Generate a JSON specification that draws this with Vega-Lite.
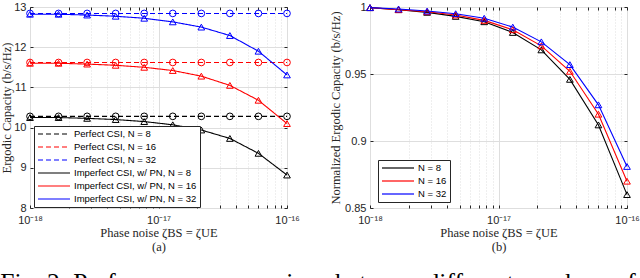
{
  "$schema": "https://vega.github.io/schema/vega-lite/v6.json",
  "padding": {"left": 0, "top": 0, "right": 0, "bottom": 0},
  "background": "white",
  "config": {
    "view": {"stroke": "#262626", "strokeWidth": 1},
    "axis": {
      "domain": false,
      "labelFont": "Liberation Sans",
      "labelFontSize": 11,
      "labelColor": "#262626",
      "titleFont": "Liberation Serif",
      "titleFontSize": 12.5,
      "titleFontWeight": "normal",
      "titleColor": "#262626",
      "tickColor": "#262626",
      "gridColor": "#dedede",
      "labelFlush": false,
      "labelOverlap": false
    },
    "legend": {
      "labelFont": "Liberation Sans",
      "labelFontSize": 9.5,
      "labelColor": "#000000",
      "strokeColor": "#262626",
      "fillColor": "white",
      "padding": 3,
      "rowPadding": 3,
      "symbolType": "M-1,0H7",
      "symbolSize": 64,
      "symbolStrokeWidth": 1.2,
      "labelOffset": 27,
      "title": null
    }
  },
  "title": {
    "text": "Fig. 2: Performance comparison between different numbers of",
    "orient": "bottom",
    "anchor": "start",
    "frame": "bounds",
    "font": "Liberation Serif",
    "fontSize": 25.5,
    "fontWeight": "normal",
    "color": "#000000",
    "offset": 18
  },
  "datasets": {
    "a": [
      {"x": 1e-18, "series": "Perfect CSI, N = 8", "n": "8", "csi": "Perfect", "y": 10.28},
      {"x": 1.6681e-18, "series": "Perfect CSI, N = 8", "n": "8", "csi": "Perfect", "y": 10.28},
      {"x": 2.7826e-18, "series": "Perfect CSI, N = 8", "n": "8", "csi": "Perfect", "y": 10.28},
      {"x": 4.6416e-18, "series": "Perfect CSI, N = 8", "n": "8", "csi": "Perfect", "y": 10.28},
      {"x": 7.7426e-18, "series": "Perfect CSI, N = 8", "n": "8", "csi": "Perfect", "y": 10.28},
      {"x": 1.2915e-17, "series": "Perfect CSI, N = 8", "n": "8", "csi": "Perfect", "y": 10.28},
      {"x": 2.1544e-17, "series": "Perfect CSI, N = 8", "n": "8", "csi": "Perfect", "y": 10.28},
      {"x": 3.5938e-17, "series": "Perfect CSI, N = 8", "n": "8", "csi": "Perfect", "y": 10.28},
      {"x": 5.9948e-17, "series": "Perfect CSI, N = 8", "n": "8", "csi": "Perfect", "y": 10.28},
      {"x": 1e-16, "series": "Perfect CSI, N = 8", "n": "8", "csi": "Perfect", "y": 10.28},
      {"x": 1e-18, "series": "Perfect CSI, N = 16", "n": "16", "csi": "Perfect", "y": 11.62},
      {"x": 1.6681e-18, "series": "Perfect CSI, N = 16", "n": "16", "csi": "Perfect", "y": 11.62},
      {"x": 2.7826e-18, "series": "Perfect CSI, N = 16", "n": "16", "csi": "Perfect", "y": 11.62},
      {"x": 4.6416e-18, "series": "Perfect CSI, N = 16", "n": "16", "csi": "Perfect", "y": 11.62},
      {"x": 7.7426e-18, "series": "Perfect CSI, N = 16", "n": "16", "csi": "Perfect", "y": 11.62},
      {"x": 1.2915e-17, "series": "Perfect CSI, N = 16", "n": "16", "csi": "Perfect", "y": 11.62},
      {"x": 2.1544e-17, "series": "Perfect CSI, N = 16", "n": "16", "csi": "Perfect", "y": 11.62},
      {"x": 3.5938e-17, "series": "Perfect CSI, N = 16", "n": "16", "csi": "Perfect", "y": 11.62},
      {"x": 5.9948e-17, "series": "Perfect CSI, N = 16", "n": "16", "csi": "Perfect", "y": 11.62},
      {"x": 1e-16, "series": "Perfect CSI, N = 16", "n": "16", "csi": "Perfect", "y": 11.62},
      {"x": 1e-18, "series": "Perfect CSI, N = 32", "n": "32", "csi": "Perfect", "y": 12.84},
      {"x": 1.6681e-18, "series": "Perfect CSI, N = 32", "n": "32", "csi": "Perfect", "y": 12.84},
      {"x": 2.7826e-18, "series": "Perfect CSI, N = 32", "n": "32", "csi": "Perfect", "y": 12.84},
      {"x": 4.6416e-18, "series": "Perfect CSI, N = 32", "n": "32", "csi": "Perfect", "y": 12.84},
      {"x": 7.7426e-18, "series": "Perfect CSI, N = 32", "n": "32", "csi": "Perfect", "y": 12.84},
      {"x": 1.2915e-17, "series": "Perfect CSI, N = 32", "n": "32", "csi": "Perfect", "y": 12.84},
      {"x": 2.1544e-17, "series": "Perfect CSI, N = 32", "n": "32", "csi": "Perfect", "y": 12.84},
      {"x": 3.5938e-17, "series": "Perfect CSI, N = 32", "n": "32", "csi": "Perfect", "y": 12.84},
      {"x": 5.9948e-17, "series": "Perfect CSI, N = 32", "n": "32", "csi": "Perfect", "y": 12.84},
      {"x": 1e-16, "series": "Perfect CSI, N = 32", "n": "32", "csi": "Perfect", "y": 12.84},
      {"x": 1e-18, "series": "Imperfect CSI, w/ PN, N = 8", "n": "8", "csi": "Imperfect", "y": 10.25},
      {"x": 1.6681e-18, "series": "Imperfect CSI, w/ PN, N = 8", "n": "8", "csi": "Imperfect", "y": 10.25},
      {"x": 2.7826e-18, "series": "Imperfect CSI, w/ PN, N = 8", "n": "8", "csi": "Imperfect", "y": 10.23},
      {"x": 4.6416e-18, "series": "Imperfect CSI, w/ PN, N = 8", "n": "8", "csi": "Imperfect", "y": 10.2},
      {"x": 7.7426e-18, "series": "Imperfect CSI, w/ PN, N = 8", "n": "8", "csi": "Imperfect", "y": 10.15},
      {"x": 1.2915e-17, "series": "Imperfect CSI, w/ PN, N = 8", "n": "8", "csi": "Imperfect", "y": 10.07},
      {"x": 2.1544e-17, "series": "Imperfect CSI, w/ PN, N = 8", "n": "8", "csi": "Imperfect", "y": 9.94},
      {"x": 3.5938e-17, "series": "Imperfect CSI, w/ PN, N = 8", "n": "8", "csi": "Imperfect", "y": 9.73},
      {"x": 5.9948e-17, "series": "Imperfect CSI, w/ PN, N = 8", "n": "8", "csi": "Imperfect", "y": 9.36},
      {"x": 1e-16, "series": "Imperfect CSI, w/ PN, N = 8", "n": "8", "csi": "Imperfect", "y": 8.82},
      {"x": 1e-18, "series": "Imperfect CSI, w/ PN, N = 16", "n": "16", "csi": "Imperfect", "y": 11.6},
      {"x": 1.6681e-18, "series": "Imperfect CSI, w/ PN, N = 16", "n": "16", "csi": "Imperfect", "y": 11.6},
      {"x": 2.7826e-18, "series": "Imperfect CSI, w/ PN, N = 16", "n": "16", "csi": "Imperfect", "y": 11.58},
      {"x": 4.6416e-18, "series": "Imperfect CSI, w/ PN, N = 16", "n": "16", "csi": "Imperfect", "y": 11.55},
      {"x": 7.7426e-18, "series": "Imperfect CSI, w/ PN, N = 16", "n": "16", "csi": "Imperfect", "y": 11.5},
      {"x": 1.2915e-17, "series": "Imperfect CSI, w/ PN, N = 16", "n": "16", "csi": "Imperfect", "y": 11.42},
      {"x": 2.1544e-17, "series": "Imperfect CSI, w/ PN, N = 16", "n": "16", "csi": "Imperfect", "y": 11.28},
      {"x": 3.5938e-17, "series": "Imperfect CSI, w/ PN, N = 16", "n": "16", "csi": "Imperfect", "y": 11.05},
      {"x": 5.9948e-17, "series": "Imperfect CSI, w/ PN, N = 16", "n": "16", "csi": "Imperfect", "y": 10.68},
      {"x": 1e-16, "series": "Imperfect CSI, w/ PN, N = 16", "n": "16", "csi": "Imperfect", "y": 10.1},
      {"x": 1e-18, "series": "Imperfect CSI, w/ PN, N = 32", "n": "32", "csi": "Imperfect", "y": 12.82},
      {"x": 1.6681e-18, "series": "Imperfect CSI, w/ PN, N = 32", "n": "32", "csi": "Imperfect", "y": 12.82},
      {"x": 2.7826e-18, "series": "Imperfect CSI, w/ PN, N = 32", "n": "32", "csi": "Imperfect", "y": 12.8},
      {"x": 4.6416e-18, "series": "Imperfect CSI, w/ PN, N = 32", "n": "32", "csi": "Imperfect", "y": 12.77},
      {"x": 7.7426e-18, "series": "Imperfect CSI, w/ PN, N = 32", "n": "32", "csi": "Imperfect", "y": 12.72},
      {"x": 1.2915e-17, "series": "Imperfect CSI, w/ PN, N = 32", "n": "32", "csi": "Imperfect", "y": 12.63},
      {"x": 2.1544e-17, "series": "Imperfect CSI, w/ PN, N = 32", "n": "32", "csi": "Imperfect", "y": 12.5},
      {"x": 3.5938e-17, "series": "Imperfect CSI, w/ PN, N = 32", "n": "32", "csi": "Imperfect", "y": 12.29},
      {"x": 5.9948e-17, "series": "Imperfect CSI, w/ PN, N = 32", "n": "32", "csi": "Imperfect", "y": 11.9},
      {"x": 1e-16, "series": "Imperfect CSI, w/ PN, N = 32", "n": "32", "csi": "Imperfect", "y": 11.31}
    ],
    "b": [
      {"x": 1e-18, "series": "N = 8", "n": "8", "y": 0.9995},
      {"x": 1.6681e-18, "series": "N = 8", "n": "8", "y": 0.998},
      {"x": 2.7826e-18, "series": "N = 8", "n": "8", "y": 0.996},
      {"x": 4.6416e-18, "series": "N = 8", "n": "8", "y": 0.993},
      {"x": 7.7426e-18, "series": "N = 8", "n": "8", "y": 0.989},
      {"x": 1.2915e-17, "series": "N = 8", "n": "8", "y": 0.981},
      {"x": 2.1544e-17, "series": "N = 8", "n": "8", "y": 0.968},
      {"x": 3.5938e-17, "series": "N = 8", "n": "8", "y": 0.946},
      {"x": 5.9948e-17, "series": "N = 8", "n": "8", "y": 0.912},
      {"x": 1e-16, "series": "N = 8", "n": "8", "y": 0.86},
      {"x": 1e-18, "series": "N = 16", "n": "16", "y": 0.9995},
      {"x": 1.6681e-18, "series": "N = 16", "n": "16", "y": 0.998},
      {"x": 2.7826e-18, "series": "N = 16", "n": "16", "y": 0.9965},
      {"x": 4.6416e-18, "series": "N = 16", "n": "16", "y": 0.994},
      {"x": 7.7426e-18, "series": "N = 16", "n": "16", "y": 0.99},
      {"x": 1.2915e-17, "series": "N = 16", "n": "16", "y": 0.983},
      {"x": 2.1544e-17, "series": "N = 16", "n": "16", "y": 0.971},
      {"x": 3.5938e-17, "series": "N = 16", "n": "16", "y": 0.952},
      {"x": 5.9948e-17, "series": "N = 16", "n": "16", "y": 0.92},
      {"x": 1e-16, "series": "N = 16", "n": "16", "y": 0.87},
      {"x": 1e-18, "series": "N = 32", "n": "32", "y": 0.9995},
      {"x": 1.6681e-18, "series": "N = 32", "n": "32", "y": 0.9985},
      {"x": 2.7826e-18, "series": "N = 32", "n": "32", "y": 0.997},
      {"x": 4.6416e-18, "series": "N = 32", "n": "32", "y": 0.995},
      {"x": 7.7426e-18, "series": "N = 32", "n": "32", "y": 0.9916},
      {"x": 1.2915e-17, "series": "N = 32", "n": "32", "y": 0.985},
      {"x": 2.1544e-17, "series": "N = 32", "n": "32", "y": 0.974},
      {"x": 3.5938e-17, "series": "N = 32", "n": "32", "y": 0.957},
      {"x": 5.9948e-17, "series": "N = 32", "n": "32", "y": 0.927},
      {"x": 1e-16, "series": "N = 32", "n": "32", "y": 0.881}
    ]
  },
  "resolve": {
    "scale": {"color": "independent", "strokeDash": "independent", "stroke": "independent", "shape": "independent"},
    "legend": {"color": "independent", "strokeDash": "independent", "stroke": "independent", "shape": "independent"}
  },
  "spacing": 29,
  "hconcat": [
    {
      "width": 257,
      "height": 201,
      "data": {"name": "a"},
      "resolve": {"axis": {"x": "independent", "y": "independent"}},
      "layer": [
        {
          "mark": {"type": "line", "strokeWidth": 1.1},
          "encoding": {
            "x": {
              "field": "x", "type": "quantitative",
              "scale": {"type": "log", "domain": [1e-18, 1e-16], "nice": false},
              "axis": {
                "orient": "bottom",
                "values": [1e-18, 2e-18, 3e-18, 4e-18, 5e-18, 6e-18, 7e-18, 8e-18, 9e-18, 1e-17, 2e-17, 3e-17, 4e-17, 5e-17, 6e-17, 7e-17, 8e-17, 9e-17, 1e-16],
                "labelExpr": "abs(datum.value-1e-18)<1e-20 ? '10⁻¹⁸' : abs(datum.value-1e-17)<1e-19 ? '10⁻¹⁷' : abs(datum.value-1e-16)<1e-18 ? '10⁻¹⁶' : ''",
                "gridDash": {"condition": {"test": "abs(log(datum.value)/LN10 - round(log(datum.value)/LN10)) < 0.01", "value": []}, "value": [1, 2]},
                "tickSize": -3,
                "labelPadding": 9,
                "title": ["Phase noise ζBS = ζUE", "(a)"],
                "titlePadding": 1,
                "titleLineHeight": 14
              }
            },
            "y": {
              "field": "y", "type": "quantitative",
              "scale": {"domain": [8, 13], "zero": false, "nice": false},
              "axis": {
                "orient": "left",
                "values": [8, 9, 10, 11, 12, 13],
                "tickSize": -3,
                "labelPadding": 7,
                "title": "Ergodic Capacity (b/s/Hz)",
                "titlePadding": 0
              }
            },
            "color": {
              "field": "series", "type": "nominal",
              "scale": {
                "domain": ["Perfect CSI, N = 8", "Perfect CSI, N = 16", "Perfect CSI, N = 32", "Imperfect CSI, w/ PN, N = 8", "Imperfect CSI, w/ PN, N = 16", "Imperfect CSI, w/ PN, N = 32"],
                "range": ["#000000", "#ff0000", "#0000ff", "#000000", "#ff0000", "#0000ff"]
              },
              "legend": {"orient": "none", "legendX": 4, "legendY": 119}
            },
            "strokeDash": {
              "field": "series", "type": "nominal",
              "scale": {
                "domain": ["Perfect CSI, N = 8", "Perfect CSI, N = 16", "Perfect CSI, N = 32", "Imperfect CSI, w/ PN, N = 8", "Imperfect CSI, w/ PN, N = 16", "Imperfect CSI, w/ PN, N = 32"],
                "range": [[5, 3], [5, 3], [5, 3], [1, 0], [1, 0], [1, 0]]
              },
              "legend": {"orient": "none", "legendX": 4, "legendY": 119}
            }
          }
        },
        {
          "mark": {"type": "point", "filled": false, "strokeWidth": 1, "size": 45, "opacity": 1},
          "encoding": {
            "x": {
              "field": "x", "type": "quantitative",
              "scale": {"type": "log", "domain": [1e-18, 1e-16], "nice": false},
              "axis": {
                "orient": "top",
                "values": [1e-18, 2e-18, 3e-18, 4e-18, 5e-18, 6e-18, 7e-18, 8e-18, 9e-18, 1e-17, 2e-17, 3e-17, 4e-17, 5e-17, 6e-17, 7e-17, 8e-17, 9e-17, 1e-16],
                "labels": false, "grid": false, "tickSize": -3, "title": null
              }
            },
            "y": {
              "field": "y", "type": "quantitative",
              "scale": {"domain": [8, 13], "zero": false, "nice": false},
              "axis": {"orient": "right", "values": [8, 9, 10, 11, 12, 13], "labels": false, "grid": false, "tickSize": -3, "title": null}
            },
            "stroke": {
              "field": "n", "type": "nominal",
              "scale": {"domain": ["8", "16", "32"], "range": ["#000000", "#ff0000", "#0000ff"]},
              "legend": null
            },
            "shape": {
              "field": "csi", "type": "nominal",
              "scale": {"domain": ["Perfect", "Imperfect"], "range": ["circle", "triangle-up"]},
              "legend": null
            }
          }
        }
      ]
    },
    {
      "width": 257,
      "height": 201,
      "data": {"name": "b"},
      "resolve": {"axis": {"x": "independent", "y": "independent"}},
      "layer": [
        {
          "mark": {"type": "line", "strokeWidth": 1.1},
          "encoding": {
            "x": {
              "field": "x", "type": "quantitative",
              "scale": {"type": "log", "domain": [1e-18, 1e-16], "nice": false},
              "axis": {
                "orient": "bottom",
                "values": [1e-18, 2e-18, 3e-18, 4e-18, 5e-18, 6e-18, 7e-18, 8e-18, 9e-18, 1e-17, 2e-17, 3e-17, 4e-17, 5e-17, 6e-17, 7e-17, 8e-17, 9e-17, 1e-16],
                "labelExpr": "abs(datum.value-1e-18)<1e-20 ? '10⁻¹⁸' : abs(datum.value-1e-17)<1e-19 ? '10⁻¹⁷' : abs(datum.value-1e-16)<1e-18 ? '10⁻¹⁶' : ''",
                "gridDash": {"condition": {"test": "abs(log(datum.value)/LN10 - round(log(datum.value)/LN10)) < 0.01", "value": []}, "value": [1, 2]},
                "tickSize": -3,
                "labelPadding": 9,
                "title": ["Phase noise ζBS = ζUE", "(b)"],
                "titlePadding": 1,
                "titleLineHeight": 14
              }
            },
            "y": {
              "field": "y", "type": "quantitative",
              "scale": {"domain": [0.85, 1], "zero": false, "nice": false},
              "axis": {
                "orient": "left",
                "values": [0.85, 0.9, 0.95, 1],
                "format": ".2~f",
                "tickSize": -3,
                "labelPadding": 7,
                "title": "Normalized Ergodic Capacity (b/s/Hz)",
                "titlePadding": 2
              }
            },
            "color": {
              "field": "series", "type": "nominal",
              "scale": {"domain": ["N = 8", "N = 16", "N = 32"], "range": ["#000000", "#ff0000", "#0000ff"]},
              "legend": {"orient": "none", "legendX": 8, "legendY": 153}
            }
          }
        },
        {
          "mark": {"type": "point", "filled": false, "strokeWidth": 1, "size": 45, "opacity": 1, "shape": "triangle-up"},
          "encoding": {
            "x": {
              "field": "x", "type": "quantitative",
              "scale": {"type": "log", "domain": [1e-18, 1e-16], "nice": false},
              "axis": {
                "orient": "top",
                "values": [1e-18, 2e-18, 3e-18, 4e-18, 5e-18, 6e-18, 7e-18, 8e-18, 9e-18, 1e-17, 2e-17, 3e-17, 4e-17, 5e-17, 6e-17, 7e-17, 8e-17, 9e-17, 1e-16],
                "labels": false, "grid": false, "tickSize": -3, "title": null
              }
            },
            "y": {
              "field": "y", "type": "quantitative",
              "scale": {"domain": [0.85, 1], "zero": false, "nice": false},
              "axis": {"orient": "right", "values": [0.85, 0.9, 0.95, 1], "labels": false, "grid": false, "tickSize": -3, "title": null}
            },
            "stroke": {
              "field": "n", "type": "nominal",
              "scale": {"domain": ["8", "16", "32"], "range": ["#000000", "#ff0000", "#0000ff"]},
              "legend": null
            }
          }
        }
      ]
    }
  ]
}
